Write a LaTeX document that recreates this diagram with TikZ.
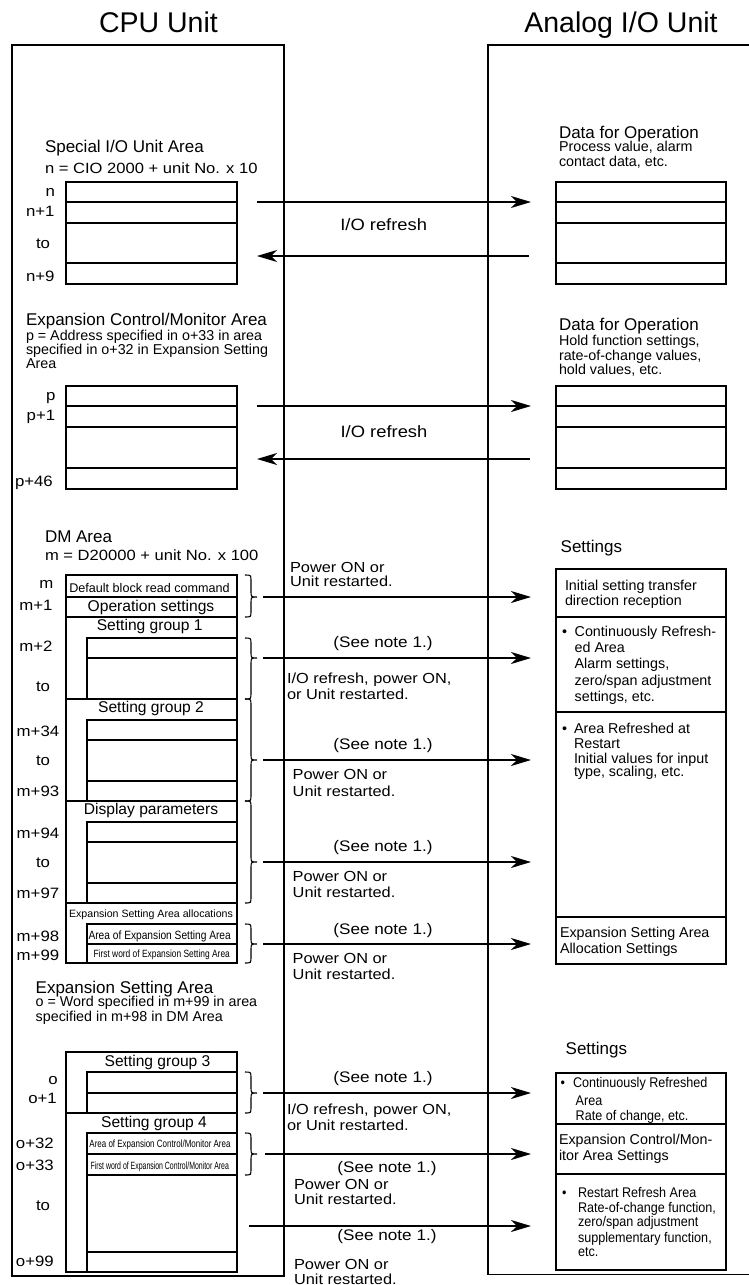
\documentclass[tikz,border=0pt]{standalone}
\usepackage{fontspec}
\setmainfont{Liberation Sans}
\newfontfamily\widef[FakeStretch=1.12]{Liberation Sans}
\newfontfamily\condA[FakeStretch=0.85]{Liberation Sans}
\newfontfamily\condB[FakeStretch=0.80]{Liberation Sans}
\newfontfamily\condC[FakeStretch=0.76]{Liberation Sans}
\newfontfamily\condD[FakeStretch=0.66]{Liberation Sans}
\newfontfamily\condE[FakeStretch=0.90]{Liberation Sans}
\usetikzlibrary{arrows.meta}
\newcommand\mybrace[4]{\draw[sbrc] (#1,#2) .. controls (#1+6,#2) .. (#1+6,#2+6) -- (#1+6,#3-6) .. controls (#1+6,#3) .. (#1+12,#3) .. controls (#1+6,#3) .. (#1+6,#3+6) -- (#1+6,#4-6) .. controls (#1+6,#4) .. (#1,#4);}
\newcommand\myarr[4]{\coordinate (#1s) at (#2,#4); \coordinate (#1e) at (#3,#4); \draw[sarr] (#1s) -- (#1e);}
\newcommand\mytx[5]{\node[#1] (#2) at (#3,#4) {#5};}
\begin{document}
\begin{tikzpicture}[x=1pt,y=-1pt,
  sfrm/.style={line width=1.4pt},
  sbox/.style={line width=1.3pt},
  sbrc/.style={line width=1.1pt},
  sarr/.style={line width=1.2pt,-{Stealth[length=20pt,width=12pt,inset=6pt]}},
  stxt/.style={inner sep=0pt,outer sep=0pt,anchor=base west},
  sctr/.style={inner sep=0pt,outer sep=0pt,anchor=base},
  sttl/.style={sctr,font=\fontsize{28.5}{30}\selectfont},
  shead/.style={stxt,font=\fontsize{17}{18}\selectfont},
  ssmall/.style={stxt,font=\fontsize{14.3}{15}\selectfont},
  ssub/.style={stxt,font=\widef\fontsize{14.8}{15}\selectfont},
  slab/.style={stxt,font=\widef\fontsize{14.6}{15}\selectfont},
  saddr/.style={stxt,font=\widef\fontsize{15}{16}\selectfont},
  snote/.style={sctr,font=\widef\fontsize{15.3}{16}\selectfont},
  siof/.style={sctr,font=\widef\fontsize{16.4}{17}\selectfont},
  sgrp/.style={sctr,font=\fontsize{15.6}{16}\selectfont},
  srtx/.style={stxt,font=\fontsize{14.3}{15}\selectfont},
  sbtx/.style={stxt,font=\condE\fontsize{14}{15}\selectfont},
]
\useasboundingbox (0,0) rectangle (748,1285);
% titles
\node[sttl] (t1) at (158.5,32.4) {CPU Unit};
\node[sttl] (t2) at (621,32.4) {Analog I/O Unit};
% frames
\draw[sfrm] (12,45) rectangle (284,1276);
\draw[sfrm] (488,45) rectangle (751,1274.5);

% ---------- Special I/O Unit Area ----------
\mytx{shead}{sioh}{45}{152}{Special I/O Unit Area}
\mytx{ssub}{sios}{45}{173.5}{n = CIO 2000 + unit No. x 10}
\draw[sbox] (66,182) rectangle (237,284);
\foreach \yy in {202,223,263} \draw[sbox] (66,\yy) -- (237,\yy);
\mytx{saddr}{an0}{45.7}{196}{n}
\mytx{saddr}{an1}{26}{216.7}{n+1}
\mytx{saddr}{an2}{36}{248}{to}
\mytx{saddr}{an3}{26}{281.7}{n+9}
\mytx{shead}{dop1}{559}{138}{Data for Operation}
\mytx{ssmall}{dop1a}{559}{151.7}{Process value, alarm}
\mytx{ssmall}{dop1b}{559}{166}{contact data, etc.}
\draw[sbox] (556,182) rectangle (726,284);
\foreach \yy in {202,223,263} \draw[sbox] (556,\yy) -- (726,\yy);
\myarr{a1}{257}{531}{202}
\myarr{a2}{529}{257}{256}
\node[siof] (io1) at (383.7,230) {I/O refresh};

% ---------- Expansion Control/Monitor Area ----------
\mytx{shead}{ecmh}{26}{325.8}{Expansion Control/Monitor Area}
\mytx{ssmall}{ecm1}{26}{340}{p = Address specified in o+33 in area}
\mytx{ssmall}{ecm2}{26}{354.5}{specified in o+32 in Expansion Setting}
\mytx{ssmall}{ecm3}{26}{368.3}{Area}
\draw[sbox] (66,386) rectangle (237,489);
\foreach \yy in {406,427,468} \draw[sbox] (66,\yy) -- (237,\yy);
\mytx{saddr}{ap0}{46}{400}{p}
\mytx{saddr}{ap1}{26.7}{420.7}{p+1}
\mytx{saddr}{ap2}{15}{486}{p+46}
\mytx{shead}{dop2}{559}{330.7}{Data for Operation}
\mytx{ssmall}{dop2a}{559}{345.7}{Hold function settings,}
\mytx{ssmall}{dop2b}{559}{360.7}{rate-of-change values,}
\mytx{ssmall}{dop2c}{559}{374.5}{hold values, etc.}
\draw[sbox] (556,386) rectangle (726,489);
\foreach \yy in {406,427,468} \draw[sbox] (556,\yy) -- (726,\yy);
\myarr{a3}{257}{531}{406}
\myarr{a4}{530}{257}{459}
\node[siof] (io2) at (384,437.7) {I/O refresh};

% ---------- DM Area ----------
\mytx{shead}{dmh}{45}{542.7}{DM Area}
\mytx{ssub}{dms}{45}{560}{m = D20000 + unit No. x 100}
\draw[sbox] (66,575) rectangle (237,963);
\foreach \yy in {597,617,699,801,903} \draw[sbox] (66,\yy) -- (237,\yy);
\draw[sbox] (87,638) rectangle (237,699);
\draw[sbox] (87,658) -- (237,658);
\draw[sbox] (87,720) rectangle (237,801);
\foreach \yy in {740,781} \draw[sbox] (87,\yy) -- (237,\yy);
\draw[sbox] (87,822) rectangle (237,903);
\foreach \yy in {842,883} \draw[sbox] (87,\yy) -- (237,\yy);
\draw[sbox,line width=1.6pt] (87,924) rectangle (237,963);
\draw[sbox] (87,944) -- (237,944);
\mytx{stxt,font=\fontsize{12.6}{13}\selectfont}{d1}{69.3}{592.3}{Default block read command}
\node[sgrp] (d2) at (151,611.7) {Operation settings};
\node[sgrp] (d3) at (149.7,630) {Setting group 1};
\node[sgrp] (d4) at (151,712.7) {Setting group 2};
\node[sgrp] (d5) at (151,814.3) {Display parameters};
\node[sctr,font=\fontsize{10.6}{11}\selectfont] (d6) at (151,917) {Expansion Setting Area allocations};
\node[sctr,font=\condA\fontsize{12}{12}\selectfont] (d7) at (159.7,939.3) {Area of Expansion Setting Area};
\node[sctr,font=\condB\fontsize{10.5}{11}\selectfont] (d8) at (161.7,957.3) {First word of Expansion Setting Area};
\mytx{saddr}{am0}{39.3}{588.3}{m}
\mytx{saddr}{am1}{19.3}{610}{m+1}
\mytx{saddr}{am2}{19.3}{651.7}{m+2}
\mytx{saddr}{am3}{36}{691.7}{to}
\mytx{saddr}{am4}{16.7}{736}{m+34}
\mytx{saddr}{am5}{36}{765.7}{to}
\mytx{saddr}{am6}{16.7}{796.7}{m+93}
\mytx{saddr}{am7}{16.7}{838.3}{m+94}
\mytx{saddr}{am8}{36}{867.3}{to}
\mytx{saddr}{am9}{16.7}{898.3}{m+97}
\mytx{saddr}{am10}{16.7}{941.7}{m+98}
\mytx{saddr}{am11}{16.7}{960}{m+99}
\mybrace{245}{575}{597}{617}
\mybrace{245}{638}{658}{699}
\mybrace{245}{699}{760}{801}
\mybrace{245}{801}{862}{903}
\mybrace{245}{924}{944}{963}
\myarr{b1}{263}{531}{597}
\myarr{b2}{263}{531}{658}
\myarr{b3}{263}{531}{760}
\myarr{b4}{263}{531}{862}
\myarr{b5}{263}{531}{944}
\mytx{slab}{l1}{290}{572.3}{Power ON or}
\mytx{slab}{l2}{290}{586.7}{Unit restarted.}
\node[snote] (n1) at (383,647) {(See note 1.)};
\mytx{slab}{l3}{287}{683.3}{I/O refresh, power ON,}
\mytx{slab}{l4}{287}{699}{or Unit restarted.}
\node[snote] (n2) at (383,749) {(See note 1.)};
\mytx{slab}{l5}{292.7}{779}{Power ON or}
\mytx{slab}{l6}{292.7}{796}{Unit restarted.}
\node[snote] (n3) at (383,851) {(See note 1.)};
\mytx{slab}{l7}{292.7}{881.7}{Power ON or}
\mytx{slab}{l8}{292.7}{897.5}{Unit restarted.}
\node[snote] (n4) at (383,934) {(See note 1.)};
\mytx{slab}{l9}{292.7}{963.3}{Power ON or}
\mytx{slab}{l10}{292.7}{979}{Unit restarted.}
% right DM settings
\mytx{shead}{set1}{560.7}{552.3}{Settings}
\draw[sbox] (556,569) rectangle (726,964);
\foreach \yy in {617,712,917} \draw[sbox] (556,\yy) -- (726,\yy);
\mytx{srtx}{r1}{565}{590}{Initial setting transfer}
\mytx{srtx}{r2}{565}{605}{direction reception}
\mytx{srtx}{rb1}{562}{636}{•}
\mytx{srtx}{r3}{574.7}{636}{Continuously Refresh-}
\mytx{srtx}{r4}{574.7}{652.3}{ed Area}
\mytx{srtx}{r5}{574.7}{668.3}{Alarm settings,}
\mytx{srtx}{r6}{574.7}{685}{zero/span adjustment}
\mytx{srtx}{r7}{574.7}{701.7}{settings, etc.}
\mytx{srtx}{rb2}{562}{733.3}{•}
\mytx{srtx}{r8}{574}{733.3}{Area Refreshed at}
\mytx{srtx}{r9}{574}{748.3}{Restart}
\mytx{srtx}{r10}{574}{763.3}{Initial values for input}
\mytx{srtx}{r11}{574}{776.7}{type, scaling, etc.}
\mytx{srtx}{r12}{560}{937.3}{Expansion Setting Area}
\mytx{srtx}{r13}{560}{953.3}{Allocation Settings}

% ---------- Expansion Setting Area ----------
\mytx{shead}{esh}{35.7}{993.3}{Expansion Setting Area}
\mytx{ssmall}{es1}{35.7}{1006.7}{o = Word specified in m+99 in area}
\mytx{ssmall}{es2}{35.7}{1021.7}{specified in m+98 in DM Area}
\draw[sbox] (66,1052) rectangle (237,1272);
\draw[sbox] (66,1113) -- (237,1113);
\draw[sbox] (87,1072) rectangle (237,1113);
\draw[sbox] (87,1093) -- (237,1093);
\draw[sbox] (87,1133) rectangle (237,1272);
\foreach \yy in {1154,1175,1252} \draw[sbox] (87,\yy) -- (237,\yy);
\node[sgrp] (e1) at (157.5,1066) {Setting group 3};
\node[sgrp] (e2) at (154,1127.7) {Setting group 4};
\node[sctr,font=\condC\fontsize{10.5}{11}\selectfont] (e3) at (160,1147.3) {Area of Expansion Control/Monitor Area};
\node[sctr,font=\condD\fontsize{10.5}{11}\selectfont] (e4) at (159.8,1169) {First word of Expansion Control/Monitor Area};
\mytx{saddr}{ao0}{48.3}{1084}{o}
\mytx{saddr}{ao1}{28.3}{1103.3}{o+1}
\mytx{saddr}{ao2}{16}{1148.3}{o+32}
\mytx{saddr}{ao3}{16}{1170}{o+33}
\mytx{saddr}{ao4}{36}{1210}{to}
\mytx{saddr}{ao5}{16}{1266.7}{o+99}
\mybrace{245}{1072}{1093}{1113}
\mybrace{245}{1133}{1154}{1175}
\myarr{c1}{263}{531}{1093}
\myarr{c2}{265}{531}{1154}
\myarr{c3}{249}{531}{1226}
\node[snote] (n5) at (383,1082) {(See note 1.)};
\mytx{slab}{l11}{287}{1114}{I/O refresh, power ON,}
\mytx{slab}{l12}{287}{1130}{or Unit restarted.}
\node[snote] (n6) at (387,1172) {(See note 1.)};
\mytx{slab}{l13}{294}{1189}{Power ON or}
\mytx{slab}{l14}{294}{1204}{Unit restarted.}
\node[snote] (n7) at (387,1240) {(See note 1.)};
\mytx{slab}{l15}{294}{1269.3}{Power ON or}
\mytx{slab}{l16}{294}{1284}{Unit restarted.}
% right bottom settings
\mytx{shead}{set2}{565.7}{1054}{Settings}
\draw[sbox] (556,1073) rectangle (726,1270);
\foreach \yy in {1124,1174} \draw[sbox] (556,\yy) -- (726,\yy);
\mytx{sbtx}{bb1}{560.7}{1087.7}{•}
\mytx{sbtx}{bt1}{573}{1087.7}{Continuously Refreshed}
\mytx{sbtx}{bt2}{575.7}{1105}{Area}
\mytx{sbtx}{bt3}{575.7}{1120}{Rate of change, etc.}
\mytx{srtx}{bt4}{559}{1144}{Expansion Control/Mon-}
\mytx{srtx}{bt5}{559}{1160.7}{itor Area Settings}
\mytx{sbtx}{bb2}{562}{1197.3}{•}
\mytx{sbtx}{bt6}{578}{1197.3}{Restart Refresh Area}
\mytx{sbtx}{bt7}{578}{1212.7}{Rate-of-change function,}
\mytx{sbtx}{bt8}{578}{1226.7}{zero/span adjustment}
\mytx{sbtx}{bt9}{578}{1242}{supplementary function,}
\mytx{sbtx}{bt10}{578}{1256.7}{etc.}
\end{tikzpicture}
\end{document}
